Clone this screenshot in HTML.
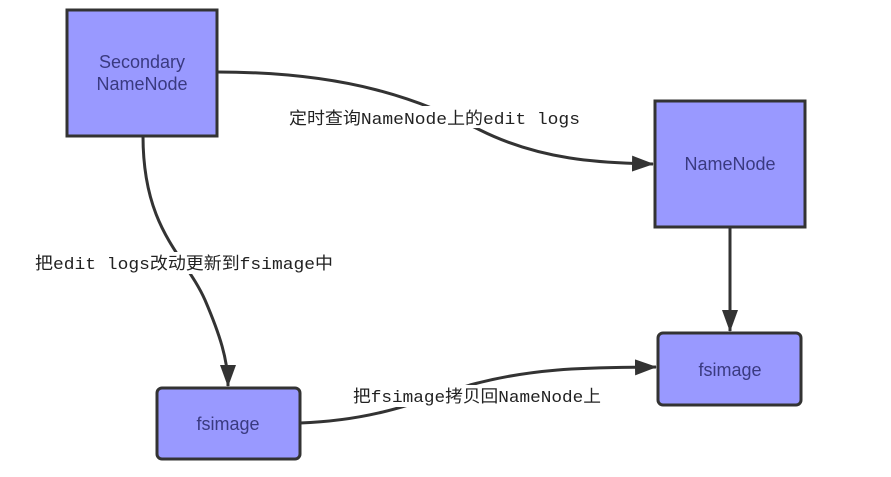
<!DOCTYPE html>
<html><head><meta charset="utf-8"><style>
body{margin:0;background:#fff;width:891px;height:472px;overflow:hidden}
</style></head><body>
<svg width="891" height="472" viewBox="0 0 891 472" xmlns="http://www.w3.org/2000/svg">
<defs>
<marker id="a" markerWidth="22" markerHeight="16" refX="21" refY="8" orient="auto" markerUnits="userSpaceOnUse">
<path d="M0,0 L22,8 L0,16 Z" fill="#333"/>
</marker>
</defs>
<g fill="none" stroke="#333" stroke-width="3">
<path d="M217,72 C350,72 420,100 480,130 C540,160 600,163 653,164" marker-end="url(#a)"/>
<path d="M143,136 C143,230 185,255 205,300 C220,335 228,360 228,386" marker-end="url(#a)"/>
<path d="M730,227 L730,331" marker-end="url(#a)"/>
<path d="M300,423 C380,420 420,400 470,385 C540,366 600,368 656,367" marker-end="url(#a)"/>
</g>
<g stroke="#333" stroke-width="3" fill="#9999ff">
<rect x="67" y="10" width="150" height="126"/>
<rect x="655" y="101" width="150" height="126"/>
<rect x="658" y="333" width="143" height="72" rx="5"/>
<rect x="157" y="388" width="143" height="71" rx="5"/>
</g>
<g font-family="'Liberation Sans',sans-serif" font-size="18" fill="#3a3a80" text-anchor="middle">
<text x="142" y="68">Secondary</text>
<text x="142" y="90">NameNode</text>
<text x="730" y="170">NameNode</text>
<text x="730" y="376">fsimage</text>
<text x="228" y="430">fsimage</text>
</g>
<g font-family="'Liberation Mono','Noto Sans CJK SC',monospace" font-size="17" fill="#222">
<rect x="286" y="106" width="298" height="22" fill="#fff"/>
<text x="289" y="124" textLength="291" lengthAdjust="spacingAndGlyphs">定时查询NameNode上的edit logs</text>
<rect x="32" y="252" width="304" height="22" fill="#fff"/>
<text x="35" y="269" textLength="298" lengthAdjust="spacingAndGlyphs">把edit logs改动更新到fsimage中</text>
<rect x="350" y="385" width="254" height="22" fill="#fff"/>
<text x="353" y="402" textLength="248" lengthAdjust="spacingAndGlyphs">把fsimage拷贝回NameNode上</text>
</g>
</svg>
</body></html>
